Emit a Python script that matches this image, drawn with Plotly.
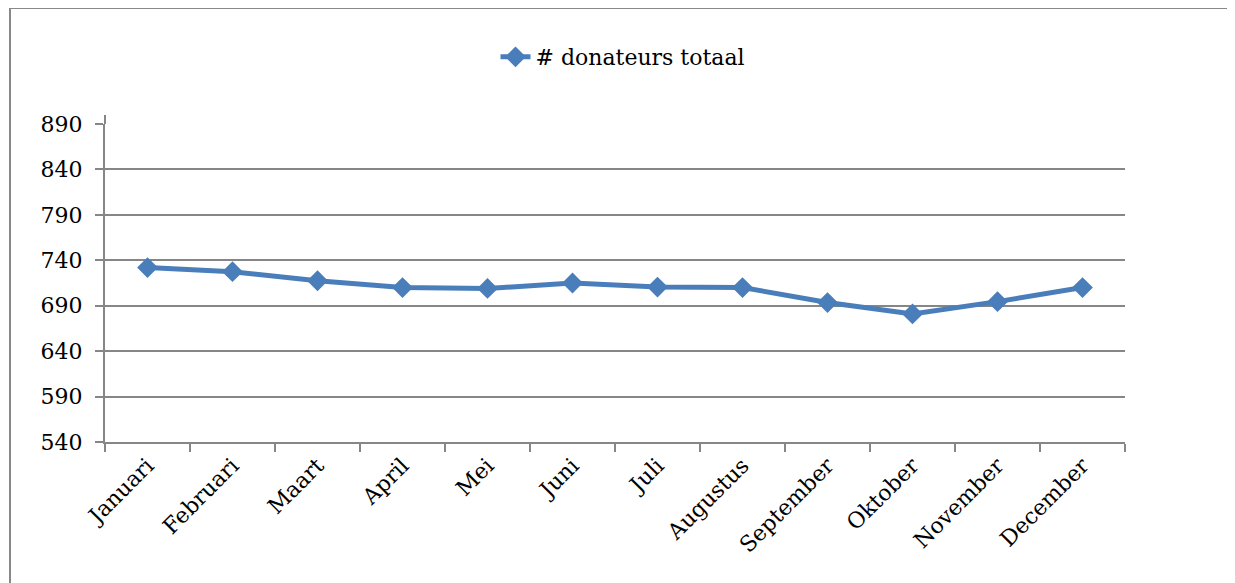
import plotly.graph_objects as go

months = ["Januari", "Februari", "Maart", "April", "Mei", "Juni", "Juli",
          "Augustus", "September", "Oktober", "November", "December"]
donateurs = [732, 727.5, 717.5, 710, 709, 715, 710.5, 710, 693.5, 681, 694.5, 710]
y_ticks = [540, 590, 640, 690, 740, 790, 840, 890]

FONT = "DejaVu Serif"
AX = "#868686"
LINE = "#4a7ebb"

OFF = 8  # page body offset
W, H = 1235, 583
L, T = 105 - OFF, 124 - OFF
pw, ph = 1020, 318
R = W - L - pw
B = H - T - ph

def px(x):
    return (x - OFF - L) / pw

def py(y):
    return 1 - (y - OFF - T) / ph

fig = go.Figure()
fig.add_trace(go.Scatter(
    x=months, y=donateurs, mode="lines+markers",
    name="# donateurs totaal",
    line=dict(color=LINE, width=5),
    marker=dict(symbol="diamond", size=16, color=LINE),
))

fig.update_layout(
    width=W, height=H,
    margin=dict(l=L, r=R, t=T, b=B),
    paper_bgcolor="white", plot_bgcolor="white",
    font=dict(family=FONT, size=22, color="black"),
    showlegend=True,
    legend=dict(orientation="h", x=0.5 + 8 / pw, xanchor="center", y=py(57), yanchor="middle",
                font=dict(family=FONT, size=22, color="black")),
    xaxis=dict(
        type="category", range=[-0.5, 11.5], tickangle=-45,
        tickson="boundaries", ticks="outside", ticklen=8, tickcolor=AX, tickwidth=2,
        showline=True, linecolor=AX, linewidth=2, showgrid=False, zeroline=False,
        tickfont=dict(family=FONT, size=22),
    ),
    yaxis=dict(
        range=[540, 890], tickvals=y_ticks, ticktext=[str(v) for v in y_ticks],
        ticks="outside", ticklen=8, tickcolor=AX, tickwidth=2,
        showline=True, linecolor=AX, linewidth=2,
        showgrid=True, gridcolor=AX, gridwidth=2, zeroline=False,
        tickfont=dict(family=FONT, size=22), ticklabelstandoff=8,
    ),
    shapes=[
        dict(type="rect", xref="paper", yref="paper",
             x0=px(10), x1=px(1232), y0=py(640), y1=py(8),
             line=dict(color="#888888", width=2), layer="below"),
        dict(type="line", xref="paper", yref="paper",
             x0=0, x1=0, y0=1, y1=py(115),
             line=dict(color=AX, width=2)),
    ],
)

fig.write_html("out.html")
